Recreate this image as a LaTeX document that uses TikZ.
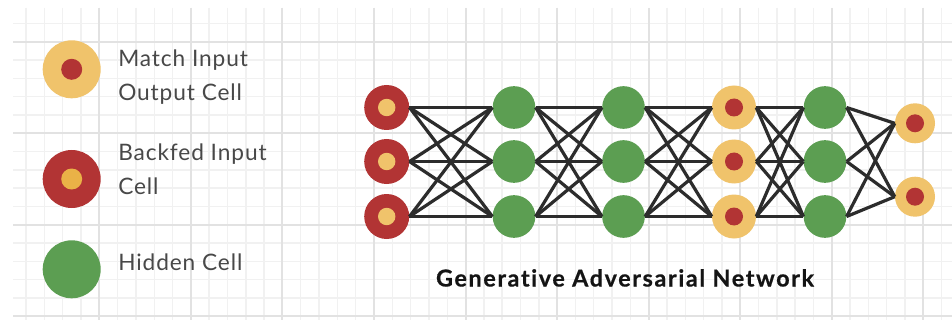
\documentclass[tikz,border=0pt]{standalone}
\usepackage{fontspec}
\setmainfont{Lato}
\definecolor{cyel}{HTML}{F0C36B}
\definecolor{cyel2}{HTML}{EAB247}
\definecolor{cred}{HTML}{B23434}
\definecolor{cgreen}{HTML}{5C9E52}
\definecolor{ctext}{HTML}{484848}
\definecolor{cedge}{HTML}{2C2C2C}
\definecolor{gminor}{HTML}{F1F1F1}
\definecolor{gmajor}{HTML}{E2E2E2}
\tikzset{
  cell/.style={circle, inner sep=0pt, draw=none},
  matchcell/.style={cell, fill=cyel, minimum size=#1,
     path picture={\fill[cred] (path picture bounding box.center) circle (9);}},
  backcell/.style={cell, fill=cred, minimum size=#1,
     path picture={\fill[cyel] (path picture bounding box.center) circle (8.7);}},
  hidcell/.style={cell, fill=cgreen, minimum size=#1},
  edge/.style={draw=cedge, line width=2.4pt},
  legtext/.style={anchor=west, align=left, inner sep=0pt, text=ctext,
     font=\fontsize{17}{25.5}\selectfont\addfontfeatures{LetterSpace=4}},
}
\begin{document}
\begin{tikzpicture}[x=0.75pt,y=-0.75pt]
\useasboundingbox (0,0) rectangle (952,324);
\fill[white] (0,0) rectangle (952,324);
% grid
\foreach \k in {1,...,51}{
  \pgfmathsetmacro\xx{7.8+18.31*\k}
  \draw[gminor, line width=1.1pt] (\xx,8) -- (\xx,320);
}
\foreach \k in {1,...,17}{
  \pgfmathsetmacro\yy{5.1+18.31*\k}
  \draw[gminor, line width=1.1pt] (13,\yy) -- (952,\yy);
}
\foreach \k in {5,10,...,50}{
  \pgfmathsetmacro\xx{7.8+18.31*\k}
  \draw[gmajor, line width=1.5pt] (\xx,8) -- (\xx,320);
}
\foreach \k in {2,7,12,17}{
  \pgfmathsetmacro\yy{5.1+18.31*\k}
  \draw[gmajor, line width=1.5pt] (13,\yy) -- (952,\yy);
}
% legend
\node[cell, fill=cyel, minimum size=43.5pt,
  path picture={\fill[cred] (path picture bounding box.center) circle (10.5);}] (lmatch) at (71.7,69.3) {};
\node[cell, fill=cred, minimum size=43.5pt,
  path picture={\fill[cyel2] (path picture bounding box.center) circle (10.5);}] (lback) at (71.7,179) {};
\node[hidcell=43.5pt] (lhid) at (71.7,269.3) {};
\node[legtext] (tmatch) at (118,77.5) {Match Input\\Output Cell};
\node[legtext] (tback) at (118,169) {Backfed Input\\Cell};
\node[legtext] (thid) at (118,262.5) {Hidden Cell};
% network
\foreach \i/\y in {1/107.5,2/161.5,3/216.5}{
  \node[backcell=33.75pt] (a\i) at (386.7,\y) {};
  \node[hidcell=32pt] (b\i) at (514,\y) {};
  \node[hidcell=32pt] (c\i) at (623.5,\y) {};
  \node[matchcell=33pt] (d\i) at (734,\y) {};
  \node[hidcell=32pt] (e\i) at (825,\y) {};
}
\node[matchcell=30pt] (f1) at (915,123.3) {};
\node[matchcell=30pt] (f2) at (915,196.7) {};
\foreach \s/\t in {a/b,b/c,c/d,d/e}{
  \foreach \i in {1,2,3}{
    \foreach \j in {1,2,3}{
      \draw[edge] (\s\i.east) -- (\t\j.west);
    }
  }
}
\foreach \i in {1,2,3}{
  \foreach \j in {1,2}{
    \draw[edge] (e\i.east) -- (f\j.west);
  }
}
\node[font=\fontsize{17.5}{20}\selectfont\bfseries\addfontfeatures{LetterSpace=7,Ligatures=NoCommon,FakeBold=0.6}, text=black!92, anchor=base, inner sep=0pt] (title) at (625,286.5) {Generative Adversarial Network};
\end{tikzpicture}
\end{document}
